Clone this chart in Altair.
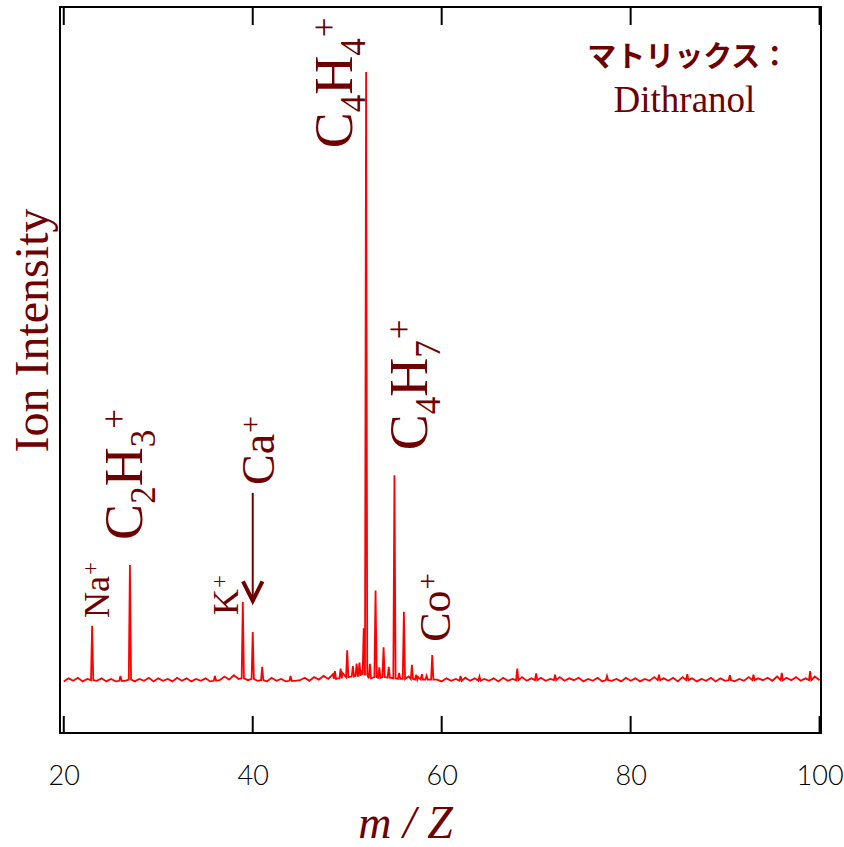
import altair as alt
import numpy as np
import pandas as pd

# ---------------- data ----------------
# baseline noise of the spectrum, read every 0.5 m/Z from 20 to 100
noise_start = 20.0
noise_step = 0.5
noise_values = [
    0.1, 0.6, 0.2, 0.7, 0.1, 0.5, 0.8, 0.2, 0.6, 0.1,
    0.5, 0.1, 0.7, 0.2, 0.6, 0.1, 0.5, 0.2, 0.7, 0.1,
    0.6, 0.2, 0.5, 0.1, 0.7, 0.2, 0.6, 0.1, 0.5, 0.2,
    0.6, 0.1, 0.7, 0.3, 0.9, 0.4, 1.1, 0.5, 0.9, 0.3,
    0.8, 0.2, 0.6, 0.1, 0.7, 0.2, 0.5, 0.1, 0.6, 0.2,
    0.3, 0.7, 0.2, 0.8, 0.4, 1.0, 0.5, 1.3, 0.6, 1.5,
    0.9, 1.8, 1.0, 2.0, 1.2, 0.6, 0.5, 1.6, 2.0, 0.9,
    0.7, 1.2, 0.5, 0.9, 0.4, 0.8, 0.5, 0.9, 0.6, 0.4,
    0.1, 0.6, 0.2, 0.5, 0.1, 0.7, 0.2, 0.6, 0.1, 0.5,
    0.2, 0.6, 0.1, 0.7, 0.2, 0.5, 0.1, 0.8, 0.2, 0.6,
    0.1, 0.7, 0.2, 0.5, 0.1, 0.8, 0.2, 0.6, 0.3, 0.7,
    0.1, 0.5, 0.2, 0.7, 0.1, 0.6, 0.2, 0.5, 0.1, 0.7,
    0.2, 0.6, 0.1, 0.5, 0.2, 0.8, 0.1, 0.6, 0.2, 0.7,
    0.1, 0.8, 0.3, 0.6, 0.1, 0.5, 0.2, 0.7, 0.1, 0.6,
    0.2, 0.7, 0.1, 0.5, 0.2, 0.8, 0.1, 0.6, 0.3, 0.7,
    0.2, 0.9, 0.1, 0.7, 0.3, 0.8, 0.2, 0.6, 0.4, 0.9,
    0.3,
]

# peaks: position, height and the level at their foot
peak_mz = [23.0, 26.0, 27.0, 36.0, 38.95, 40.0, 41.0, 44.0, 48.7, 49.3,
           50.0, 50.6, 51.0, 51.3, 51.75, 52.0, 52.4, 53.0, 53.4, 53.85,
           54.4, 55.0, 55.5, 56.0, 56.85, 57.3, 57.9, 58.4, 59.0, 62.0,
           64.0, 68.0, 70.0, 72.0, 77.5, 83.0, 86.0, 90.5, 93.0, 96.0, 99.0]
peak_height = [9.2, 1.0, 19.2, 1.0, 13.1, 8.2, 2.5, 1.0, 1.8, 2.2,
               5.2, 2.6, 3.0, 3.2, 8.8, 100.0, 3.0, 15.0, 2.4, 5.7,
               2.5, 33.9, 1.5, 11.5, 2.8, 1.2, 1.3, 1.0, 4.4, 1.0,
               0.9, 2.2, 1.4, 1.2, 1.0, 1.2, 1.3, 1.1, 1.2, 1.5, 1.8]
peak_base = [0.3, 0.2, 0.4, 0.2, 0.6, 0.5, 0.3, 0.2, 0.5, 0.6,
             0.8, 0.9, 1.0, 1.0, 1.2, 1.2, 0.6, 0.8, 0.7, 0.8,
             0.7, 0.6, 0.5, 0.5, 0.5, 0.4, 0.4, 0.4, 0.4, 0.2,
             0.2, 0.3, 0.3, 0.3, 0.3, 0.3, 0.3, 0.3, 0.3, 0.3, 0.3]

tick_values = [20, 40, 60, 80, 100]

# peak labels (formula pieces: n = normal, sub = subscript, sup = superscript)
label_parts = [
    [("N", "n"), ("a", "n"), ("+", "sup")],
    [("C", "n"), ("2", "sub"), ("H", "n"), ("3", "sub"), ("+", "sup")],
    [("K", "n"), ("+", "sup")],
    [("C", "n"), ("a", "n"), ("+", "sup")],
    [("C", "n"), ("4", "sub"), ("H", "n"), ("4", "sub"), ("+", "sup")],
    [("C", "n"), ("4", "sub"), ("H", "n"), ("7", "sub"), ("+", "sup")],
    [("C", "n"), ("o", "n"), ("+", "sup")],
]
label_mz = [24.81, 28.31, 38.47, 42.2, 50.53, 58.47, 60.9]
label_v = [10.5, 23.3, 11.0, 32.3, 87.5, 38.0, 6.6]

# arrow pointing to Ca+ peak
arrow_mz = [40.0]
arrow_top = [31.0]
arrow_tip = [13.3]

matrix_title = "マトリックス："
matrix_name = "Dithranol"
matrix_title_mz = [86.1]
matrix_name_mz = [85.7]
matrix_title_v = [100.8]
matrix_name_v = [93.4]

# ---------------- styling ----------------
DARK = "#6f0000"
RED = "#ff0000"
SERIF = "Liberation Serif"
W, H = 761, 726
X_MIN, X_MAX = 19.6, 100.15
Y_MIN, Y_MAX = -8.36, 110.66
LABEL_FONT = [36, 54, 36, 46, 54, 54, 44]
CHAR_W = {"C": 0.667, "H": 0.722, "N": 0.722, "a": 0.444, "K": 0.722,
          "o": 0.5, "+": 0.564, "2": 0.5, "3": 0.5, "4": 0.5, "7": 0.5}

xscale = alt.Scale(domain=[X_MIN, X_MAX], nice=False, zero=False)
yscale = alt.Scale(domain=[Y_MIN, Y_MAX], nice=False, zero=False)

xaxis = alt.Axis(
    values=tick_values, ticks=False, domain=False, grid=False,
    labelFont="Lato", labelFontWeight=300,
    labelFontSize=27, labelColor="black", labelPadding=30,
    labelFlush=False, labelOverlap=False, labelBound=False,
    title="m / Z", titleFont=SERIF, titleFontSize=46, titleFontStyle="italic",
    titleFontWeight="normal", titleColor=DARK, titleX=345, titleY=104,
    titleAlign="center", titleBaseline="alphabetic",
)
yaxis = alt.Axis(
    labels=False, ticks=False, domain=False, grid=False,
    title="Ion Intensity", titleFont=SERIF, titleFontSize=48,
    titleFontWeight="normal", titleColor=DARK, titleAngle=270,
    titleX=-13, titleY=323, titleAlign="center", titleBaseline="alphabetic",
)


def X(field="mz"):
    return alt.X(f"{field}:Q", scale=xscale, axis=xaxis)


def Y(field):
    return alt.Y(f"{field}:Q", scale=yscale, axis=yaxis)


# ---------------- spectrum ----------------
grid_mz = noise_start + noise_step * np.arange(len(noise_values))
rows = []
for m, v in zip(grid_mz, noise_values):
    if all(abs(m - p) > 0.15 for p in peak_mz):
        rows.append((float(m), v))
for p, h, b in zip(peak_mz, peak_height, peak_base):
    rows += [(p - 0.12, b), (p, h), (p + 0.12, b)]
spec = pd.DataFrame(rows, columns=["mz", "intensity"]).sort_values("mz")

layers = []
layers.append(
    alt.Chart(spec).mark_line(color=RED, strokeWidth=1.8, clip=True).encode(
        x=X(), y=Y("intensity"), order="mz:Q"
    )
)

# inward ticks on top and bottom frame
ticks_df = pd.DataFrame({"mz": tick_values})
layers.append(alt.Chart(ticks_df).mark_rule(color="black", strokeWidth=2).encode(
    x=X(), y=alt.value(H), y2=alt.value(H - 17)))
layers.append(alt.Chart(ticks_df).mark_rule(color="black", strokeWidth=2).encode(
    x=X(), y=alt.value(0), y2=alt.value(18)))

# arrow
arrow_df = pd.DataFrame({"mz": arrow_mz, "top": arrow_top, "tip": arrow_tip})
layers.append(alt.Chart(arrow_df).mark_rule(color=DARK, strokeWidth=2).encode(
    x=X(), y=Y("top"), y2="tip:Q"))
layers.append(alt.Chart(arrow_df).mark_point(
    shape="M -1 -2 L 0 0 L 1 -2", filled=False, stroke=DARK, strokeWidth=4,
    size=380, opacity=1, strokeJoin="miter").encode(x=X(), y=Y("tip")))

# formula labels
for parts, m, v, F in zip(label_parts, label_mz, label_v, LABEL_FONT):
    df = pd.DataFrame({"mz": [m], "v": [v]})
    S = round(0.65 * F)
    adv = 0.0
    for txt, role in parts:
        if role == "n":
            size, dy = F, 0
        elif role == "sub":
            size, dy = S, round(0.24 * F)
        else:
            size, dy = S, -round(0.30 * F)
            adv += 1
        layers.append(alt.Chart(df).mark_text(
            text=txt, angle=270, align="left", baseline="alphabetic",
            dx=adv, dy=dy, font=SERIF, fontSize=size, color=DARK,
        ).encode(x=X(), y=Y("v")))
        adv += CHAR_W[txt] * size

# matrix annotation
tdf = pd.DataFrame({"mz": matrix_title_mz, "v": matrix_title_v})
ndf = pd.DataFrame({"mz": matrix_name_mz, "v": matrix_name_v})
layers.append(alt.Chart(tdf).mark_text(
    text=matrix_title, font="Noto Sans CJK JP", fontSize=29, fontWeight="bold",
    color=DARK, align="center", baseline="alphabetic").encode(x=X(), y=Y("v")))
layers.append(alt.Chart(ndf).mark_text(
    text=matrix_name, font=SERIF, fontSize=37, color=DARK,
    align="center", baseline="alphabetic").encode(x=X(), y=Y("v")))

chart = alt.layer(*layers).properties(
    width=W, height=H,
    padding={"left": 60, "top": 7, "right": 23, "bottom": 114},
    autosize=alt.AutoSizeParams(type="none"),
    background="white",
).configure_view(stroke="black", strokeWidth=2)

chart.save("out.html", embed_options={"renderer": "svg", "actions": False})
